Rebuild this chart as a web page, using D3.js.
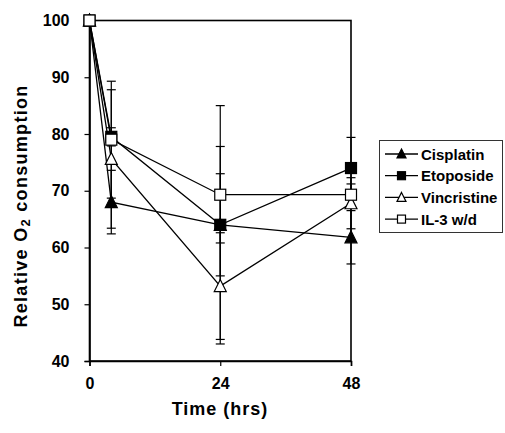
<!DOCTYPE html>
<html><head><meta charset="utf-8">
<script src="https://cdn.jsdelivr.net/npm/d3@7"></script>
<style>body{margin:0;background:#fff}svg{display:block}text{font-family:Arial,"Liberation Sans",sans-serif;font-weight:bold;fill:#000}</style>
</head><body><svg id="c" width="505" height="433"></svg>
<script>
const times = [0, 4, 24, 48];
const seriesNames = ["Cisplatin", "Etoposide", "Vincristine", "IL-3 w/d"];
const cisplatin = [100, 68, 64, 61.8];
const cisplatinErr = [0, 5.6, 9, 4.7];
const etoposide = [100, 79.5, 64, 74];
const etoposideErr = [0, 1.6, 21, 5.4];
const vincristine = [100, 75.6, 53.2, 67.8];
const vincristineErr = [0, 12.2, 9.4, 4.5];
const il3 = [100, 79, 69.3, 69.3];
const il3Err = [0, 10.3, 8.5, 1.9];
const xTicks = [0, 24, 48];
const yTicks = [40, 50, 60, 70, 80, 90, 100];
const markerTypes = ["triFilled", "sqFilled", "triOpen", "sqOpen"];

const series = [
  {name: seriesNames[0], vals: cisplatin, err: cisplatinErr, m: markerTypes[0]},
  {name: seriesNames[1], vals: etoposide, err: etoposideErr, m: markerTypes[1]},
  {name: seriesNames[2], vals: vincristine, err: vincristineErr, m: markerTypes[2]},
  {name: seriesNames[3], vals: il3, err: il3Err, m: markerTypes[3]}
];

const svg = d3.select("#c");
const L = 89.5, R = 351, T = 20.5, B = 361;
const x = d3.scaleLinear().domain([0, 48]).range([L, R]);
const y = d3.scaleLinear().domain([40, 100]).range([B, T]);
const FONT = "Arial, 'Liberation Sans', sans-serif";

// frame
svg.append("rect").attr("x", L).attr("y", T).attr("width", R - L).attr("height", B - T)
  .attr("fill", "none").attr("stroke", "#000").attr("stroke-width", 1.6);

// axes
const yAxis = d3.axisLeft(y).tickValues(yTicks).tickSize(5).tickPadding(15);
const gy = svg.append("g").attr("transform", `translate(${L},0)`).call(yAxis);
gy.select(".domain").attr("stroke-width", 1.6);
gy.selectAll("line").attr("stroke-width", 1.2);
gy.selectAll("text").style("font-size", "16px").style("font-family", FONT).style("font-weight", "bold");

const xAxis = d3.axisBottom(x).tickValues(xTicks).tickSize(5).tickPadding(12);
const gx = svg.append("g").attr("transform", `translate(0,${B})`).call(xAxis);
gx.select(".domain").attr("stroke-width", 1.6);
gx.selectAll("line").attr("stroke-width", 1.2);
gx.selectAll("text").style("font-size", "16px").style("font-family", FONT).style("font-weight", "bold");

// titles
svg.append("text").attr("x", 220).attr("y", 415).attr("text-anchor", "middle")
  .style("font-size", "18px").style("letter-spacing", "1px").text("Time (hrs)");
const yt = svg.append("text").attr("transform", `translate(27,206) rotate(-90)`)
  .attr("text-anchor", "middle").style("font-size", "18px").style("letter-spacing", "1.3px");
yt.append("tspan").text("Relative O");
yt.append("tspan").attr("dy", 3).style("font-size", "13px").text("2");
yt.append("tspan").attr("dy", -3).text(" consumption");

// error bars
const eb = svg.append("g").attr("stroke", "#000").attr("stroke-width", 1.2);
series.forEach(s => {
  s.vals.forEach((v, i) => {
    const e = s.err[i];
    if (!e) return;
    const cx = x(times[i]);
    eb.append("line").attr("x1", cx).attr("x2", cx).attr("y1", y(v + e)).attr("y2", y(v - e));
    [v + e, v - e].forEach(c => eb.append("line").attr("x1", cx - 4.5).attr("x2", cx + 4.5).attr("y1", y(c)).attr("y2", y(c)));
  });
});

// lines
const line = d3.line().x((d, i) => x(times[i])).y(d => y(d));
series.forEach(s => {
  svg.append("path").attr("d", line(s.vals)).attr("fill", "none").attr("stroke", "#000").attr("stroke-width", 1.3);
});

function marker(g, type, cx, cy, sz) {
  const h = sz / 2;
  if (type.startsWith("sq")) {
    g.append("rect").attr("x", cx - h).attr("y", cy - h).attr("width", sz).attr("height", sz)
      .attr("fill", type === "sqFilled" ? "#000" : "#fff").attr("stroke", "#000").attr("stroke-width", 1.2);
  } else {
    g.append("path").attr("d", `M${cx},${cy - h - 1}L${cx + h + 0.5},${cy + h}L${cx - h - 0.5},${cy + h}Z`)
      .attr("fill", type === "triFilled" ? "#000" : "#fff").attr("stroke", "#000").attr("stroke-width", 1.2);
  }
}
const mg = svg.append("g");
series.forEach(s => {
  s.vals.forEach((v, i) => marker(mg, s.m, x(times[i]), y(v), 11));
});

// legend
const lg = svg.append("g");
lg.append("rect").attr("x", 379.5).attr("y", 140.5).attr("width", 123).attr("height", 92)
  .attr("fill", "#fff").attr("stroke", "#333").attr("stroke-width", 1);
series.forEach((s, i) => {
  const ry = 154 + i * 21.7;
  lg.append("line").attr("x1", 385).attr("x2", 418).attr("y1", ry).attr("y2", ry).attr("stroke", "#000").attr("stroke-width", 1.3);
  marker(lg, s.m, 401.5, ry, 8);
  lg.append("text").attr("x", 421).attr("y", ry + 5.5).style("font-size", "15px").text(s.name);
});
</script></body></html>
